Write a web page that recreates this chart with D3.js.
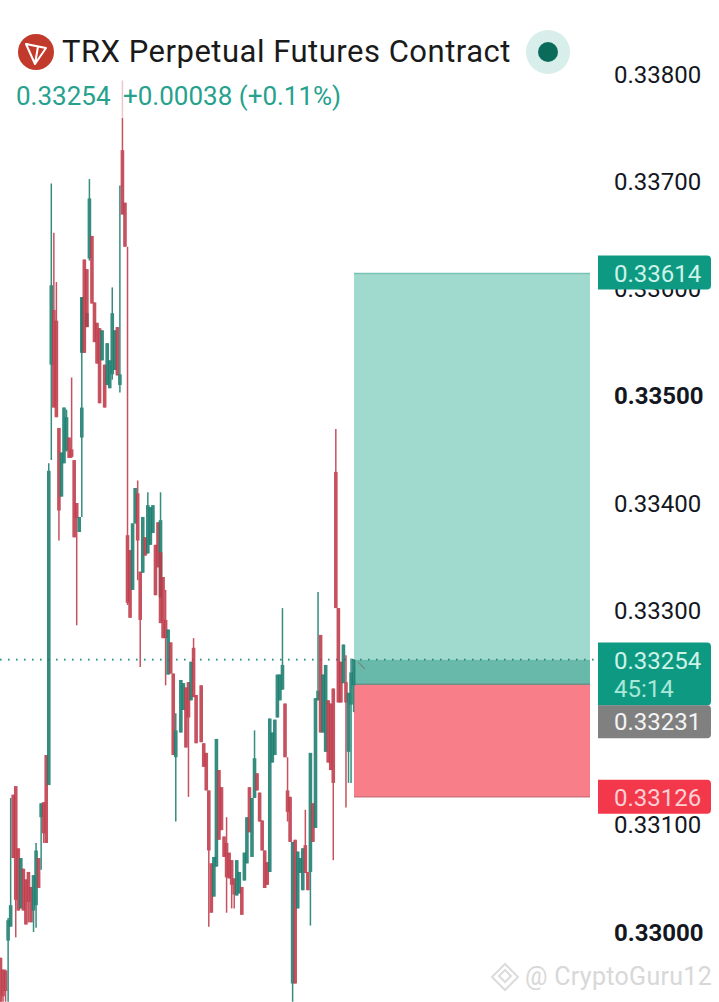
<!DOCTYPE html>
<html>
<head>
<meta charset="utf-8">
<script src="https://cdn.jsdelivr.net/npm/d3@7"></script>
<style>
	html, body { margin: 0; padding: 0; background: #fff; }
	svg { display: block; }
	text { font-family: Roboto, sans-serif; }
</style>
</head>
<body>
<div id="chart"></div>
<script>
// All prices are in 0.00001 units, so 33254 reads 0.33254
const bars = [
	0,1,2,3,4,5,6,7,8,9,10,11,12,13,14,15,16,17,18,19,
	20,21,22,23,24,25,26,27,28,29,30,31,32,32,33,34,34,35,36,37,
	38,39,40,41,42,43,44,45,46,47,48,49,50,51,52,53,54,55,56,57,
	58,59,60,61,62,63,63,64,65,66,67,68,69,71,72,73,74,75,76,77,
	79,80,81,82,83,84,85,86,87,88,89,90,91,92,93,94,95,96,97,98,
	99,100,101,102,103,104,105,106,107,108,109,110,111,112,113,114,115,116,117,118,
	119,120,121,122,123,124,125,126,127,128,129,130,131,132,133,134,135,136,137,138,
	139
];
const opens = [
	32976,32965,32964,32992,33005,33128,33136,33078,33022,33059,33049,33056,33042,33020,33025,33069,33107,33121,33165,33137,
	33529,33580,33570,33470,33406,33437,33449,33461,33450,33440,33400,33373,33461,33540,33627,33564,33618,33628,33649,33587,
	33568,33563,33533,33529,33510,33507,33520,33524,33564,33510,33729,33680,33370,33356,33319,33381,33409,33336,33335,33368,
	33353,33361,33372,33361,33382,33312,33354,33331,33291,33240,33270,33241,33163,33186,33207,33228,33233,33216,33265,33221,
	33230,33176,33167,33132,33064,33033,33061,33151,33135,33089,33083,33074,33067,33050,33034,33036,33042,33048,33064,33135,
	33070,33125,33148,33130,33104,33076,33065,33056,33158,33165,33200,33216,33226,33213,33132,33126,32952,33086,33022,33055,
	33039,33081,33056,33056,33120,33097,33216,33277,33186,33168,33216,33213,33227,33429,33302,33252,33232,33233,33168,33212,
	33230
];
const highs = [
	32976,32965,32965,33013,33125,33128,33136,33078,33069,33059,33049,33056,33042,33053,33083,33069,33120,33121,33165,33437,
	33698,33652,33606,33470,33447,33489,33487,33461,33517,33440,33400,33387,33592,33592,33627,33577,33618,33702,33649,33587,
	33568,33563,33561,33529,33549,33533,33601,33561,33564,33696,33794,33680,33639,33356,33381,33414,33421,33336,33387,33368,
	33410,33396,33398,33361,33382,33410,33354,33331,33319,33282,33270,33241,33204,33235,33232,33228,33233,33252,33274,33221,
	33230,33176,33167,33132,33064,33070,33180,33151,33135,33089,33107,33074,33067,33050,33067,33056,33042,33074,33107,33135,
	33125,33188,33148,33130,33104,33076,33065,33199,33186,33198,33240,33240,33302,33213,33163,33126,33084,33086,33075,33069,
	33078,33114,33056,33167,33120,33218,33317,33277,33240,33249,33216,33213,33227,33469,33302,33252,33268,33258,33223,33255,
	33254
];
const lows = [
	32935,32935,32935,32935,33005,33069,32995,33020,33022,33020,33007,33009,33009,33000,33004,33041,33058,33083,33083,33137,
	33440,33489,33480,33365,33406,33437,33448,33442,33442,33368,33286,33373,33387,33540,33540,33564,33564,33626,33586,33550,
	33530,33493,33533,33489,33510,33507,33515,33524,33519,33503,33669,33639,33305,33293,33319,33381,33328,33247,33335,33351,
	33353,33361,33372,33314,33340,33312,33288,33274,33230,33240,33241,33165,33103,33186,33207,33172,33126,33216,33219,33176,
	33177,33154,33132,33005,33018,33033,33061,33086,33095,33070,33018,33050,33022,33022,33034,33036,33016,33048,33064,33093,
	33070,33125,33132,33103,33076,33041,33044,33056,33158,33165,33200,33216,33226,33163,33103,33084,32935,32952,33022,33055,
	33039,33055,33039,33006,33084,33097,33216,33186,33186,33168,33158,33151,33067,33302,33214,33214,33232,33116,33139,33139,
	33205
];
const closes = [
	32935,32940,32945,33011,33025,33069,33030,33020,33069,33020,33007,33028,33009,33053,33076,33041,33120,33092,33083,33430,
	33603,33489,33480,33393,33447,33489,33480,33442,33443,33368,33386,33387,33489,33592,33540,33577,33564,33684,33586,33550,
	33530,33493,33561,33489,33549,33533,33577,33561,33519,33520,33669,33639,33307,33293,33381,33414,33365,33291,33387,33351,
	33398,33396,33398,33314,33340,33384,33288,33274,33274,33282,33241,33165,33188,33235,33232,33172,33200,33252,33219,33176,
	33177,33154,33132,33076,33018,33070,33180,33086,33095,33070,33051,33050,33044,33035,33067,33056,33016,33074,33107,33093,
	33125,33162,33132,33103,33076,33041,33044,33199,33186,33198,33240,33240,33249,33163,33112,33084,33084,32952,33075,33069,
	33078,33055,33039,33167,33084,33218,33225,33186,33240,33249,33158,33151,33139,33302,33214,33214,33268,33214,33223,33242,
	33254
];

const axisTicks = [33800, 33700, 33600, 33500, 33400, 33300, 33100, 33000];
const boldTicks = [33500, 33000];
const lastPrice = 33254, entryPrice = 33231, targetPrice = 33614, stopPrice = 33126;
const title = 'TRX Perpetual Futures Contract';
const priceText = '0.33254', changeText = '+0.00038 (+0.11%)', countdown = '45:14';
const watermark = '@ CryptoGuru12';

const upColor = '#1a7d6e', downColor = '#bf3a4a';
const fmt = d => (d / 100000).toFixed(5);

const width = 719, height = 1002;
const svg = d3.select('#chart').append('svg')
	.attr('width', width)
	.attr('height', height);

const x = d3.scaleLinear().domain([0, 139]).range([0.5, 353.6]);
const y = d3.scaleLinear().domain([33000, 33800]).range([932, 74]);

// Position tool sits under the candles
const boxLeft = 354, boxRight = 590;
svg.append('rect').attr('x', boxLeft).attr('width', boxRight - boxLeft)
	.attr('y', y(targetPrice)).attr('height', y(lastPrice) - y(targetPrice))
	.attr('fill', '#a0d9cd');
svg.append('rect').attr('x', boxLeft).attr('width', boxRight - boxLeft)
	.attr('y', y(lastPrice)).attr('height', y(entryPrice) - y(lastPrice))
	.attr('fill', '#68b9a9');
svg.append('rect').attr('x', boxLeft).attr('width', boxRight - boxLeft)
	.attr('y', y(entryPrice)).attr('height', y(stopPrice) - y(entryPrice))
	.attr('fill', '#f87e8a');
[[targetPrice, '#78c4b4'], [entryPrice, '#6f8f86'], [stopPrice, '#d0737c']].forEach(([p, c]) => {
	svg.append('line').attr('x1', boxLeft).attr('x2', boxRight)
		.attr('y1', y(p)).attr('y2', y(p))
		.attr('stroke', c).attr('stroke-width', 1.5);
});
svg.append('line').attr('x1', 358).attr('x2', 365).attr('y1', 662).attr('y2', 669)
	.attr('stroke', '#6f8f86').attr('stroke-width', 1.2);

// Last price line
svg.append('line')
	.attr('x1', 0).attr('x2', 598)
	.attr('y1', y(lastPrice)).attr('y2', y(lastPrice))
	.attr('stroke', '#1f8c7a').attr('stroke-width', 1.6)
	.attr('stroke-dasharray', '1.6 6.4');

// Candles
const candles = svg.append('g').classed('candles', true)
	.selectAll('g')
	.data(bars.map((b, i) => ({ b, o: opens[i], h: highs[i], l: lows[i], c: closes[i] })))
	.enter().append('g')
	.attr('opacity', 0.88);

candles.append('line')
	.attr('x1', d => x(d.b)).attr('x2', d => x(d.b))
	.attr('y1', d => y(d.h)).attr('y2', d => y(d.l))
	.attr('stroke', d => d.c >= d.o ? upColor : downColor)
	.attr('stroke-width', 1.5);

candles.append('rect')
	.attr('x', d => x(d.b) - 1.8)
	.attr('width', 3.6)
	.attr('y', d => y(Math.max(d.o, d.c)))
	.attr('height', d => Math.max(1, Math.abs(y(d.o) - y(d.c))))
	.attr('fill', d => d.c >= d.o ? upColor : downColor);

// Legend strip washes out whatever runs beneath it
svg.append('rect').attr('x', 0).attr('y', 0).attr('width', 360).attr('height', 118)
	.attr('fill', '#fff').attr('opacity', 0.68);

// Price axis
const axis = d3.axisRight(y)
	.tickValues(axisTicks)
	.tickFormat(fmt)
	.tickSize(0)
	.tickPadding(0);
const axisG = svg.append('g').attr('transform', 'translate(614,0.5)').call(axis);
axisG.select('.domain').remove();
axisG.selectAll('text')
	.attr('font-family', 'Roboto, sans-serif')
	.attr('font-size', 24)
	.attr('fill', '#131722')
	.attr('font-weight', d => boldTicks.includes(d) ? 700 : 400);

// Price tags
function tag(top, h, color, rows){
	svg.append('path')
		.attr('d', `M598,${top}H${707}q4,0 4,4V${top + h - 4}q0,4 -4,4H598Z`)
		.attr('fill', color);
	rows.forEach(r => {
		svg.append('text').attr('x', 614).attr('y', r.y)
			.attr('font-size', 24).attr('fill', r.fill).text(r.t);
	});
}
tag(y(targetPrice) - 18, 34, '#0e9a82', [{ y: y(targetPrice) + 9, t: fmt(targetPrice), fill: '#cdf3e9' }]);
tag(y(lastPrice) - 17, 63, '#0e9a82', [
	{ y: y(lastPrice) + 9, t: fmt(lastPrice), fill: '#cdf3e9' },
	{ y: y(lastPrice) + 37, t: countdown, fill: '#a9e8d8' }
]);
tag(y(entryPrice) + 21, 33, '#808080', [{ y: y(entryPrice) + 46, t: fmt(entryPrice), fill: '#f4f4f4' }]);
tag(y(stopPrice) - 17, 34, '#f2384a', [{ y: y(stopPrice) + 9, t: fmt(stopPrice), fill: '#fbd0d4' }]);

// Header
const logo = svg.append('g').attr('transform', 'translate(36,52)');
logo.append('circle').attr('r', 18).attr('fill', '#c23a2b');
logo.append('path').attr('d', 'M-10,-8L10,-4L-1,12Z M-10,-8L-1,12L2,-5.5 M-10,-8L2,-5.5L10,-4')
	.attr('fill', 'none').attr('stroke', '#fff').attr('stroke-width', 2).attr('stroke-linejoin', 'round');

svg.append('text').attr('x', 62).attr('y', 62)
	.attr('font-size', 31).attr('letter-spacing', 0.5).attr('fill', '#1a1a1a').text(title);
svg.append('text').attr('x', 16).attr('y', 105)
	.attr('font-size', 26).attr('fill', '#26a18d').text(priceText);
svg.append('text').attr('x', 123).attr('y', 105)
	.attr('font-size', 26).attr('fill', '#26a18d').text(changeText);

svg.append('circle').attr('cx', 548).attr('cy', 52).attr('r', 22).attr('fill', '#d8eeea');
svg.append('circle').attr('cx', 548).attr('cy', 52).attr('r', 10).attr('fill', '#0b6b5b');

// Watermark
const mark = svg.append('g').attr('transform', 'translate(505,977)')
	.attr('fill', 'none').attr('stroke', '#dcdcdc').attr('stroke-width', 2);
mark.append('path').attr('d', 'M0,-13L13,0L0,13L-13,0Z');
mark.append('path').attr('d', 'M-6,-1L0,-7L6,-1L0,5Z');
svg.append('text').attr('x', 525).attr('y', 985)
	.attr('font-family', '"Open Sans", sans-serif')
	.attr('font-size', 25).attr('letter-spacing', 0.3).attr('fill', '#d8d8d8').text(watermark);
</script>
</body>
</html>
